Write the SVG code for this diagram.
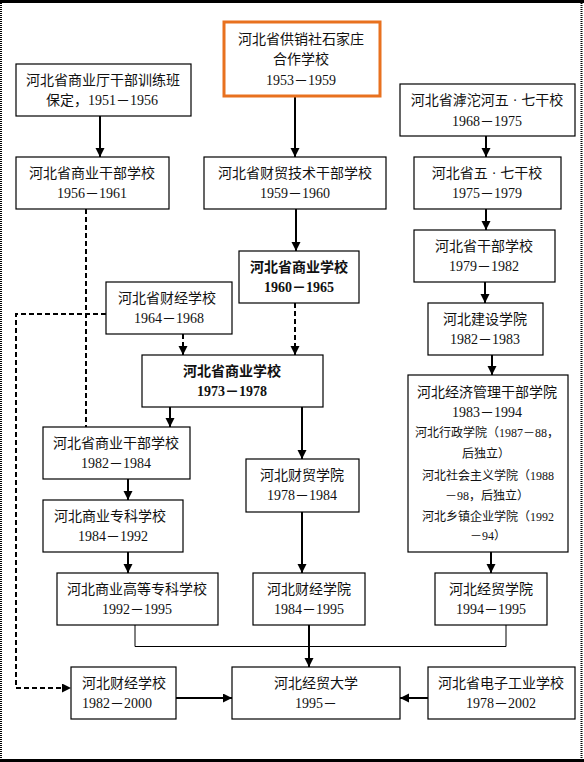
<svg xmlns="http://www.w3.org/2000/svg" width="584" height="762" viewBox="0 0 584 762">
<style>
.box{fill:#fff;stroke:#000;stroke-width:1.2}
.org{fill:#fff;stroke:#E8711F;stroke-width:3}
text{font-family:"Liberation Serif","Noto Sans CJK SC",serif;font-size:14px;fill:#111;text-anchor:middle}
.b{font-weight:bold}
.s{font-size:12px}
.ln{fill:none;stroke:#000;stroke-width:2}
.dl{fill:none;stroke:#000;stroke-width:2;stroke-dasharray:5 3}
.th{fill:none;stroke:#000;stroke-width:1}
</style>
<defs>
<marker id="ah" markerUnits="userSpaceOnUse" markerWidth="10" markerHeight="10" refX="9" refY="4.5" orient="auto">
<path d="M0,0 L9,4.5 L0,9 z" fill="#000"/>
</marker>
</defs>
<rect x="0" y="0" width="584" height="762" fill="#fff"/>
<rect x="0" y="0" width="584" height="3" fill="#000"/>
<rect x="0" y="759" width="584" height="3" fill="#000"/>
<line x1="1" y1="3" x2="1" y2="759" stroke="#000" stroke-width="2" stroke-dasharray="1 1"/>
<line x1="581.5" y1="3" x2="581.5" y2="759" stroke="#000" stroke-width="2" stroke-dasharray="1 1"/>

<g id="connectors">
<line class="ln" x1="100" y1="116" x2="100" y2="157" marker-end="url(#ah)"/>
<line class="ln" x1="295" y1="97" x2="295" y2="157" marker-end="url(#ah)"/>
<line class="ln" x1="486" y1="136" x2="486" y2="157" marker-end="url(#ah)"/>
<line class="ln" x1="486" y1="209" x2="486" y2="230" marker-end="url(#ah)"/>
<line class="ln" x1="296" y1="209" x2="296" y2="251" marker-end="url(#ah)"/>
<line class="ln" x1="485" y1="282" x2="485" y2="303" marker-end="url(#ah)"/>
<line class="ln" x1="492" y1="355" x2="492" y2="375" marker-end="url(#ah)"/>
<line class="dl" x1="295" y1="303" x2="295" y2="355" marker-end="url(#ah)"/>
<line class="dl" x1="183" y1="334" x2="183" y2="355" marker-end="url(#ah)"/>
<line class="dl" x1="86" y1="209" x2="86" y2="427"/>
<polyline class="dl" points="106,314 16,314 16,688 71,688" marker-end="url(#ah)"/>
<line class="ln" x1="170" y1="407" x2="170" y2="427" marker-end="url(#ah)"/>
<line class="ln" x1="302" y1="407" x2="302" y2="459" marker-end="url(#ah)"/>
<line class="ln" x1="128" y1="479" x2="128" y2="500" marker-end="url(#ah)"/>
<line class="ln" x1="128" y1="552" x2="128" y2="573" marker-end="url(#ah)"/>
<line class="ln" x1="302" y1="512" x2="302" y2="573" marker-end="url(#ah)"/>
<line class="ln" x1="491" y1="552" x2="491" y2="573" marker-end="url(#ah)"/>
<polyline class="th" points="135,625 135,646.5 506,646.5 506,625"/>
<line class="ln" x1="309" y1="625" x2="309" y2="667" marker-end="url(#ah)"/>
<line class="ln" x1="176" y1="698" x2="232" y2="698" marker-end="url(#ah)"/>
<line class="ln" x1="428" y1="698" x2="400" y2="698" marker-end="url(#ah)"/>
</g>

<g id="n1"><rect class="box" x="16" y="64" width="175" height="52"/><text x="103" y="85">河北省商业厅干部训练班</text><text x="102" y="105">保定，1951－1956</text></g>
<g id="n2"><rect class="org" x="224" y="22" width="156" height="74"/><text x="301" y="44">河北省供销社石家庄</text><text x="301" y="64">合作学校</text><text x="301" y="85">1953－1959</text></g>
<g id="n3"><rect class="box" x="400" y="84" width="175" height="52"/><text x="487" y="105">河北省滹沱河五<tspan dx="4">·</tspan><tspan dx="4">七干校</tspan></text><text x="487" y="126">1968－1975</text></g>
<g id="n4"><rect class="box" x="16" y="157" width="153" height="52"/><text x="92" y="178">河北省商业干部学校</text><text x="92" y="198">1956－1961</text></g>
<g id="n5"><rect class="box" x="204" y="157" width="182" height="52"/><text x="295" y="178">河北省财贸技术干部学校</text><text x="295" y="198">1959－1960</text></g>
<g id="n6"><rect class="box" x="414" y="157" width="147" height="52"/><text x="487" y="178">河北省五<tspan dx="4">·</tspan><tspan dx="4">七干校</tspan></text><text x="487" y="198">1975－1979</text></g>
<g id="n7"><rect class="box" x="414" y="230" width="141" height="52"/><text x="484" y="251">河北省干部学校</text><text x="484" y="271">1979－1982</text></g>
<g id="n8"><rect class="box" x="239" y="251" width="120" height="52"/><text class="b" x="299" y="272">河北省商业学校</text><text class="b" x="299" y="292">1960－1965</text></g>
<g id="n9"><rect class="box" x="106" y="282" width="126" height="52"/><text x="167" y="303">河北省财经学校</text><text x="169" y="323">1964－1968</text></g>
<g id="n10"><rect class="box" x="428" y="303" width="115" height="52"/><text x="485" y="324">河北建设学院</text><text x="485" y="344">1982－1983</text></g>
<g id="n11"><rect class="box" x="142" y="355" width="181" height="52"/><text class="b" x="232" y="376">河北省商业学校</text><text class="b" x="232" y="396">1973－1978</text></g>
<g id="n12"><rect class="box" x="408" y="375" width="160" height="177"/><text x="487" y="397">河北经济管理干部学院</text><text x="487" y="417">1983－1994</text><text class="s" x="487" y="437">河北行政学院（1987－88，</text><text class="s" x="486" y="458">后独立）</text><text class="s" x="488" y="480">河北社会主义学院（1988</text><text class="s" x="487" y="500">－98，后独立）</text><text class="s" x="488" y="521">河北乡镇企业学院（1992</text><text class="s" x="488" y="540">－94）</text></g>
<g id="n13"><rect class="box" x="43" y="427" width="147" height="52"/><text x="116" y="448">河北省商业干部学校</text><text x="116" y="468">1982－1984</text></g>
<g id="n14"><rect class="box" x="246" y="459" width="113" height="53"/><text x="302" y="480">河北财贸学院</text><text x="302" y="500">1978－1984</text></g>
<g id="n15"><rect class="box" x="43" y="500" width="140" height="52"/><text x="110" y="521">河北商业专科学校</text><text x="113" y="541">1984－1992</text></g>
<g id="n16"><rect class="box" x="57" y="573" width="161" height="52"/><text x="137" y="594">河北商业高等专科学校</text><text x="137" y="614">1992－1995</text></g>
<g id="n17"><rect class="box" x="253" y="573" width="112" height="52"/><text x="309" y="594">河北财经学院</text><text x="309" y="614">1984－1995</text></g>
<g id="n18"><rect class="box" x="435" y="573" width="112" height="52"/><text x="491" y="594">河北经贸学院</text><text x="491" y="614">1994－1995</text></g>
<g id="n19"><rect class="box" x="71" y="667" width="105" height="52"/><text x="82" y="688" style="text-anchor:start">河北财经学校</text><text x="82" y="708" style="text-anchor:start">1982－2000</text></g>
<g id="n20"><rect class="box" x="232" y="667" width="168" height="52"/><text x="316" y="688">河北经贸大学</text><text x="316" y="708">1995－</text></g>
<g id="n21"><rect class="box" x="428" y="667" width="147" height="52"/><text x="501" y="688">河北省电子工业学校</text><text x="501" y="708">1978－2002</text></g>
</svg>
